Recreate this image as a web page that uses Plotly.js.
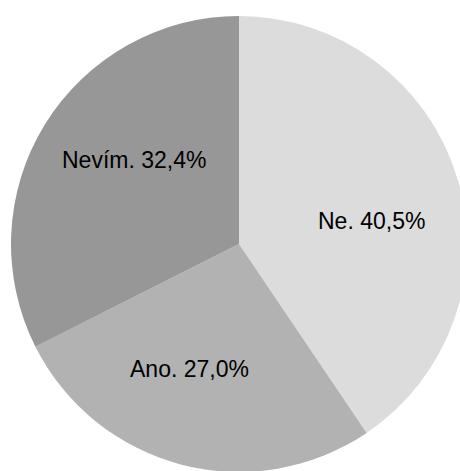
<!DOCTYPE html>
<html>
<head>
<meta charset="utf-8">
<script src="https://cdn.plot.ly/plotly-3.0.1.min.js"></script>
<style>
html, body { margin: 0; padding: 0; overflow: hidden; background: #fff; }
#chart { width: 480px; height: 480px; }
</style>
</head>
<body>
<div id="chart"></div>
<script>
const categories = ["Ne", "Ano", "Nevím"];
const values = [40.5, 27.0, 32.4];
const sliceColors = ["#dcdcdc", "#b2b2b2", "#979797"];

const W = 480, H = 480;
const cx = 239, cy = 244, R = 228;
const labelAngleShift = 7;   // degrees clockwise, mimicking the original label placement
const labelRadius = 0.59;    // fraction of the radius

const trace = {
  type: "pie",
  labels: categories,
  values: values,
  sort: false,
  direction: "clockwise",
  rotation: 0,
  marker: { colors: sliceColors, line: { width: 0 } },
  textinfo: "none",
  hoverinfo: "none",
  domain: { x: [(cx - R) / W, (cx + R) / W], y: [1 - (cy + R) / H, 1 - (cy - R) / H] }
};

const total = values.reduce((a, b) => a + b, 0);
let cum = 0;
const annotations = categories.map((c, i) => {
  const mid = (cum + values[i] / 2) / total * 360 + labelAngleShift;
  cum += values[i];
  const a = mid * Math.PI / 180;
  const px = cx + R * labelRadius * Math.sin(a);
  const py = cy - R * labelRadius * Math.cos(a);
  return {
    xref: "paper", yref: "paper",
    x: px / W, y: 1 - py / H,
    xanchor: "center", yanchor: "middle",
    showarrow: false,
    text: c + ". " + values[i].toFixed(1).replace(".", ",") + "%",
    font: { family: "Liberation Sans, Arial, sans-serif", size: 23, color: "#000" }
  };
});

const layout = {
  width: W,
  height: H,
  margin: { l: 0, r: 0, t: 0, b: 0 },
  showlegend: false,
  separators: ",.",
  paper_bgcolor: "#fff",
  annotations: annotations
};

Plotly.newPlot("chart", [trace], layout, { staticPlot: true });
</script>
</body>
</html>
